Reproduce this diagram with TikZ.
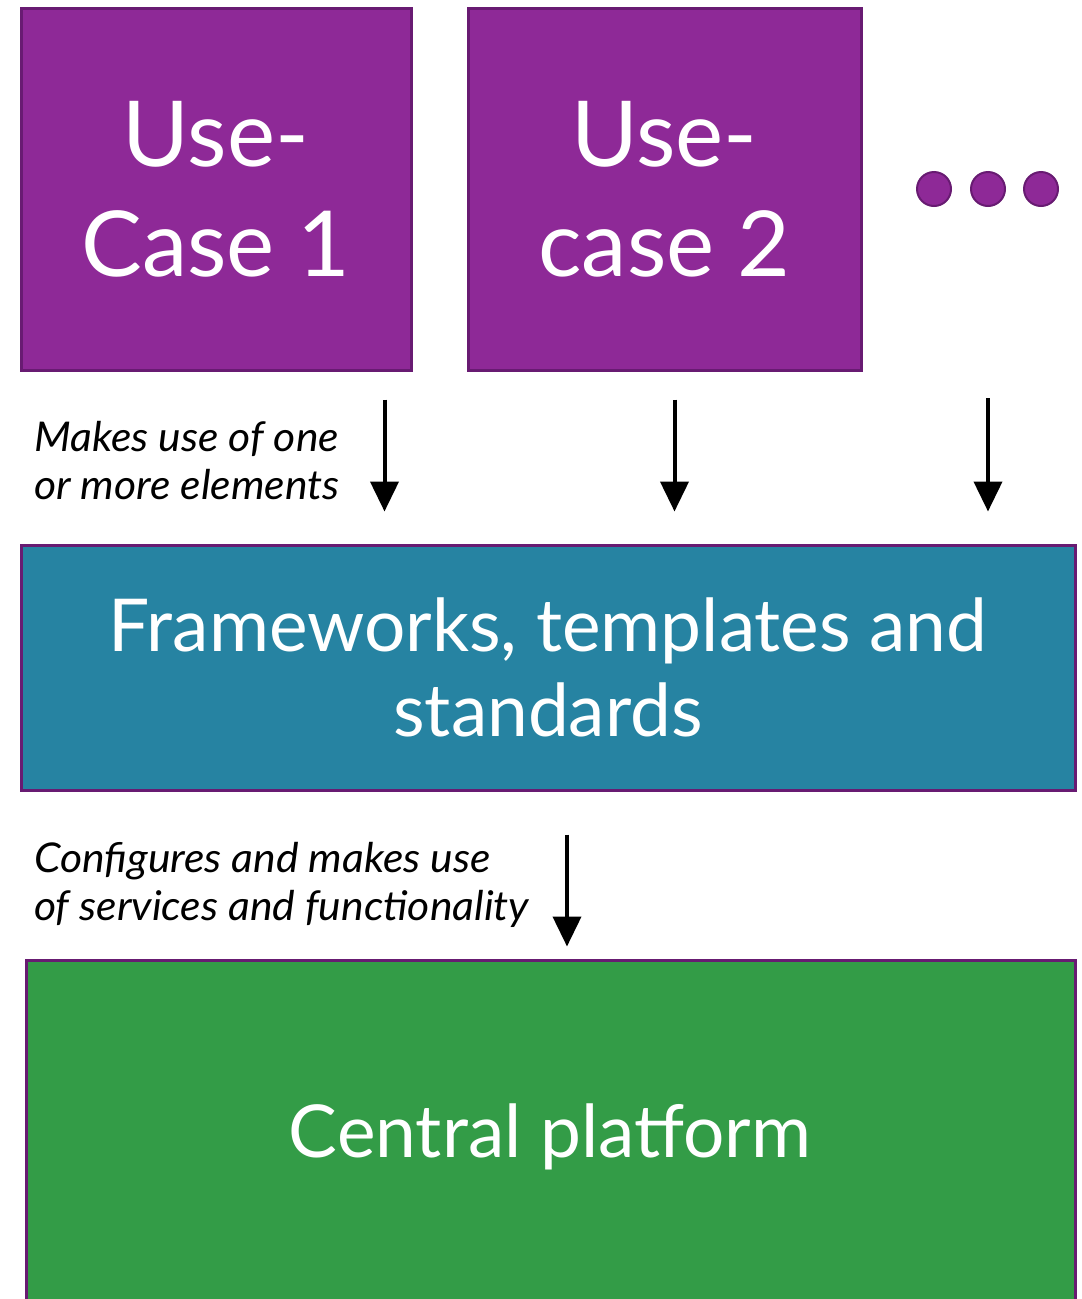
\documentclass[tikz,border=0pt]{standalone}
\usepackage{fontspec}
\setmainfont{Lato}
\newfontfamily\headfont{Lato}
\newfontfamily\barfont{Lato}
\newfontfamily\notefont{Lato}[FakeStretch=1.04]
\usetikzlibrary{arrows.meta}
\definecolor{ucpurple}{RGB}{142,41,151}
\definecolor{edgepurple}{RGB}{104,27,114}
\definecolor{fwblue}{RGB}{38,131,162}
\definecolor{cpgreen}{RGB}{51,156,71}
\begin{document}
\begin{tikzpicture}[x=1pt,y=-1pt,
  block/.style={draw=edgepurple, line width=3pt, text=white, align=center, inner sep=0pt},
  usecase/.style={block, fill=ucpurple, minimum width=390pt, minimum height=362pt,
    font=\headfont\fontsize{91}{110}\selectfont},
  layer/.style={block, font=\barfont\fontsize{73}{85}\selectfont},
  dot/.style={circle, fill=ucpurple, draw=edgepurple, line width=2pt, minimum size=34pt, inner sep=0pt},
  note/.style={anchor=north west, align=left, inner sep=0pt, font=\notefont\itshape\fontsize{41}{48}\selectfont},
  arr/.style={line width=4pt, -{Triangle[width=28pt,length=30pt]}}
]
\useasboundingbox (0,0) rectangle (1082,1299);

% use-case boxes and the trailing ellipsis
\node[usecase] (uc1) at (216,189) {Use-\\Case 1};
\node[usecase, minimum width=393pt] (uc2) at (664.5,189) {Use-\\case 2};
\node[dot] (d1) at (934,189) {};
\node[dot] (d2) at (988,189) {};
\node[dot] (d3) at (1041,189) {};

% shared layer and platform
\node[layer, fill=fwblue, minimum width=1054pt, minimum height=245pt] (fw) at (548,667.5)
  {Frameworks, templates and\\standards};
\node[block, fill=cpgreen, minimum width=1049pt, minimum height=350pt] (cp) at (550.5,1135) {};
\node[font=\barfont\fontsize{73}{85}\selectfont, text=white, inner sep=0pt] (cpl) at (550,1137) {Central platform};

% connectors
\draw[arr] ([shift={(-28,28)}]uc1.south east) coordinate (a1) -- ([shift={(0,-32)}]a1 |- fw.north);
\draw[arr] ([shift={(10,28)}]uc2.south) coordinate (a2) -- ([shift={(0,-32)}]a2 |- fw.north);
\draw[arr] ([shift={(0,209)}]d2.center) coordinate (a3) -- ([shift={(0,-32)}]a3 |- fw.north);
\draw[arr] ([shift={(19,43)}]fw.south) coordinate (a4) -- ([shift={(0,-12)}]a4 |- cp.north);

% connector notes
\node[note] (n1) at (34,421) {Makes use of one\\or more elements};
\node[note] (n2) at (34,842) {Configures and makes use\\of services and functionality};
\end{tikzpicture}
\end{document}
